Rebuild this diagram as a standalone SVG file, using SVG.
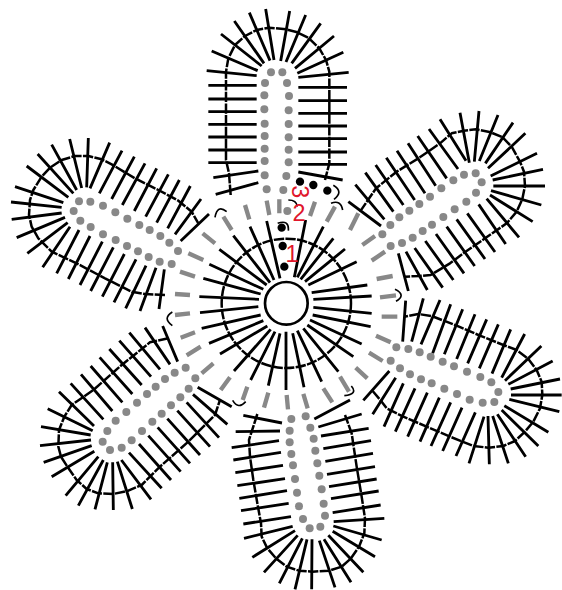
<svg xmlns="http://www.w3.org/2000/svg" width="562" height="590" viewBox="0 0 562 590">
<style>
.s{fill:none;stroke:#000;stroke-width:8.5}
.r{fill:none;stroke:#000;stroke-width:7.5;stroke-dasharray:31 4;stroke-linejoin:round}
.d{fill:#888}
.b{fill:#000}
.g{fill:none;stroke:#888;stroke-width:13}
.h{fill:none;stroke:#000;stroke-width:5}
.t{fill:#e0162b;font-family:"Liberation Sans",Arial,sans-serif;font-size:70px;text-anchor:middle}
</style>
<rect width="562" height="590" fill="#fff"/>
<g id="center" transform="translate(160,170) scale(.33333)">
<circle cx="379" cy="400" r="64" fill="#fff" stroke="#000" stroke-width="8"/>
<path class="s" d="M320,153L360,325M270,170L342,330M220,197L330,338M178,238L320,345M148,283L310,358M130,325L302,372M118,380L297,388M120,428L295,410M125,475L302,435M147,520L310,452M180,552L322,468M222,603L332,478M272,630L345,485M325,647L360,490M378,660L378,485M432,652L398,490M485,635L412,482M535,605L430,475M580,560L442,465M605,522L450,450M632,470L458,435M635,430L460,412M635,378L460,388M622,345L455,368M590,275L445,345M555,237L435,335M520,205L422,328M490,170L412,322M437,150L403,322"/>
<circle class="r" cx="379" cy="400" r="194"/>
</g>
<g id="round2" transform="translate(160,170) scale(.33333)">
<path class="g" d="M650,327L698,318M660,382L708,376M665,440L712,440M648,497L692,517M627,548L668,573M587,593L622,625M540,620L567,665M490,655L517,697M430,672L443,715M380,675L384,718M325,668L312,713M262,650L248,690M210,622L182,660M160,580L125,610M122,530L80,556M105,487L62,503M90,430L45,435M90,375L45,372M105,320L60,305M130,270L85,250M165,220L128,190M215,180L190,140M268,148L255,105M328,135L320,92M358,130L358,88M450,138L465,95M500,155L525,110M570,180L595,130M607,225L645,198M635,272L675,245"/>
<circle class="d" cx="382" cy="123" r="12"/>
<circle class="b" cx="420" cy="35" r="12.5"/><circle class="b" cx="460" cy="45" r="12.5"/><circle class="b" cx="502" cy="62" r="12.5"/><circle class="b" cx="365" cy="173" r="12.5"/><circle class="b" cx="368" cy="228" r="12.5"/><circle class="b" cx="373" cy="290" r="12.5"/>
<path class="h" d="M520,46Q552,65 522,88M513,100Q542,88 548,120M165,142Q172,102 200,125M385,90Q410,90 412,110M353,160Q388,148 385,182M705,358Q740,375 708,394M37,426Q6,445 37,467M574,648Q595,672 553,677M218,691Q235,720 257,695"/>
<text class="t" x="396" y="275">1</text>
<text class="t" x="417" y="154">2</text>
<text class="t" transform="translate(397,65) rotate(90)">3</text>
</g>
<g id="connectors"/>
<g id="petal-top" transform="translate(190,0) scale(.33333)">
<path class="s" d="M55,256H200M55,297H200M55,335H200M55,373H200M55,411H200M55,450H200M55,488H200M50,212L200,227M70,533L205,513M77,583L205,548M325,232L476,217M325,262H471M325,302H471M325,340H471M325,378H471M325,416H471M325,456H471M325,493H471M325,516L458,540M65,153L203,212M93,102L215,198M133,63L222,190M178,38L240,182M227,27L252,180M299,33L272,183M347,45L288,186M392,70L305,190M432,108L315,205M460,157L322,220"/>
<polyline class="r" points="122,585 117,520 108,480 108,215 115,175 135,135 165,108 200,90 237,83 288,88 322,97 355,113 388,145 408,180 418,215 418,490 405,540"/>
<g class="d"><circle cx="243" cy="217" r="12"/><circle cx="277" cy="217" r="12"/><circle cx="225" cy="249" r="12"/><circle cx="291" cy="249" r="12"/><circle cx="223" cy="286" r="12"/><circle cx="297" cy="288" r="12"/><circle cx="223" cy="328" r="12"/><circle cx="296" cy="331" r="12"/><circle cx="224" cy="371" r="12"/><circle cx="296" cy="372" r="12"/><circle cx="224" cy="408" r="12"/><circle cx="296" cy="412" r="12"/><circle cx="224" cy="446" r="12"/><circle cx="296" cy="449" r="12"/><circle cx="224" cy="483" r="12"/><circle cx="296" cy="487" r="12"/><circle cx="224" cy="526" r="12"/><circle cx="289" cy="528" r="12"/><circle cx="230" cy="568" r="12"/><circle cx="280" cy="570" r="12"/></g>
</g>
<g id="petal-upper-right" transform="translate(340,100) scale(.33333)">
<path class="s" d="M360,38L388,188M417,33L403,185M474,45L418,183M519,68L436,190M556,100L444,205M591,160L452,228M609,208L458,240M615,258H460M604,315L453,272M578,365L450,285M537,412L440,296M497,432L416,313M465,456L382,340M435,477L350,358M404,498L320,380M372,520L288,402M340,540L256,423M308,563L224,444M262,570L198,455M205,573L175,460M300,58L378,182M267,87L354,207M233,108L320,235M204,130L287,257M171,152L255,280M139,173L224,300M107,195L190,315M76,218L160,335M46,254L133,358M25,305L123,378"/>
<polyline class="r" points="60,335 108,265 170,215 235,175 300,130 335,100 372,92 408,88 452,97 488,112 515,140 540,185 552,215 555,258 547,297 530,335 500,370 435,415 370,460 330,490 272,525 238,528 195,530"/>
<g class="d"><circle cx="407" cy="220" r="12"/><circle cx="372" cy="224" r="12"/><circle cx="340" cy="241" r="12"/><circle cx="304" cy="265" r="12"/><circle cx="270" cy="290" r="12"/><circle cx="238" cy="312" r="12"/><circle cx="208" cy="332" r="12"/><circle cx="178" cy="352" r="12"/><circle cx="151" cy="375" r="12"/><circle cx="127" cy="403" r="12"/><circle cx="425" cy="247" r="12"/><circle cx="408" cy="278" r="12"/><circle cx="379" cy="305" r="12"/><circle cx="344" cy="328" r="12"/><circle cx="310" cy="351" r="12"/><circle cx="276" cy="374" r="12"/><circle cx="248" cy="393" r="12"/><circle cx="218" cy="413" r="12"/><circle cx="186" cy="429" r="12"/><circle cx="152" cy="438" r="12"/></g>
</g>
<g id="petal-lower-right" transform="translate(360,285) scale(.33333)">
<path class="s" d="M137,47L128,170M190,40L155,170M240,45L183,178M272,58L218,205M308,73L253,208M345,88L290,222M380,103L323,235M415,118L358,250M452,133L396,266M494,147L425,278M544,183L435,287M578,228L445,298M600,282L452,312M605,330L453,330M598,380L448,343M565,442L433,362M535,483L425,375M497,515L412,388M445,535L398,393M388,538L384,393M327,535L372,395M288,513L346,382M248,498L306,368M213,483L272,352M180,470L238,338M143,455L202,323M106,440L165,310M72,425L130,295M38,388L107,278M10,346L88,258"/>
<polyline class="r" points="38,318 65,350 80,370 130,395 200,425 270,455 340,483 385,488 430,483 465,468 495,440 520,410 540,370 547,330 545,290 530,255 505,222 470,195 430,180 360,152 290,122 215,93 175,87 133,95"/>
<g class="d"><circle cx="109" cy="187" r="12"/><circle cx="145" cy="192" r="12"/><circle cx="179" cy="202" r="12"/><circle cx="212" cy="215" r="12"/><circle cx="248" cy="230" r="12"/><circle cx="282" cy="244" r="12"/><circle cx="321" cy="260" r="12"/><circle cx="361" cy="276" r="12"/><circle cx="394" cy="292" r="12"/><circle cx="415" cy="321" r="12"/><circle cx="92" cy="227" r="12"/><circle cx="120" cy="250" r="12"/><circle cx="150" cy="268" r="12"/><circle cx="183" cy="283" r="12"/><circle cx="215" cy="295" r="12"/><circle cx="253" cy="311" r="12"/><circle cx="291" cy="327" r="12"/><circle cx="329" cy="344" r="12"/><circle cx="368" cy="353" r="12"/><circle cx="403" cy="351" r="12"/></g>
</g>
<g id="petal-bottom" transform="translate(225,390) scale(.33333)">
<path class="s" d="M55,76L171,99M32,125L165,123M20,173L162,152M25,210L168,187M31,248L174,226M37,287L180,266M43,325L186,302M48,362L191,340M55,402L198,380M57,445L203,409M82,502L210,422M117,547L218,436M163,580L232,445M210,598L246,448M260,598L261,448M330,592L283,452M378,577L297,448M415,547L310,436M450,500L323,424M470,450L325,408M478,385L326,395M467,345L323,368M461,303L318,326M455,267L312,290M450,230L306,253M444,190L301,214M438,152L295,176M431,115L288,138M410,72L280,111M375,30L268,87"/>
<polyline class="r" points="97,72 80,125 72,150 75,200 85,270 97,340 108,400 110,440 127,475 153,505 185,530 222,542 262,545 312,542 350,530 378,505 402,470 418,430 420,385 410,320 395,230 380,130 360,75"/>
<g class="d"><circle cx="199" cy="87" r="12"/><circle cx="194" cy="122" r="12"/><circle cx="194" cy="157" r="12"/><circle cx="199" cy="192" r="12"/><circle cx="204" cy="226" r="12"/><circle cx="210" cy="267" r="12"/><circle cx="216" cy="308" r="12"/><circle cx="222" cy="349" r="12"/><circle cx="234" cy="387" r="12"/><circle cx="254" cy="415" r="12"/><circle cx="242" cy="79" r="12"/><circle cx="256" cy="113" r="12"/><circle cx="266" cy="146" r="12"/><circle cx="271" cy="182" r="12"/><circle cx="277" cy="220" r="12"/><circle cx="283" cy="257" r="12"/><circle cx="290" cy="298" r="12"/><circle cx="296" cy="341" r="12"/><circle cx="300" cy="377" r="12"/><circle cx="286" cy="410" r="12"/></g>
</g>
<g id="petal-lower-left" transform="translate(35,310) scale(.33333)">
<path class="s" d="M383,48L428,155M330,53L405,163M283,68L375,178M253,92L348,200M223,117L320,225M194,142L292,252M167,168L262,277M138,193L232,303M107,220L205,328M72,245L177,348M38,296L173,362M18,350L167,375M15,407L168,390M26,457L170,407M50,500L178,424M92,557L190,440M130,587L205,450M180,598L217,457M235,600L233,457M292,597L247,455M348,568L259,450M282,428L380,535M312,402L408,510M340,377L437,485M368,352L465,460M397,326L495,435M427,302L525,410M455,277L552,383M474,253L577,343M488,232L590,290"/>
<polyline class="r" points="400,85 345,97 260,165 175,240 110,285 88,320 72,360 70,410 78,440 97,470 125,510 155,537 190,550 235,552 280,542 320,525 375,470 460,395 540,315 555,270"/>
<g class="d"><circle cx="452" cy="173" r="12"/><circle cx="419" cy="188" r="12"/><circle cx="390" cy="207" r="12"/><circle cx="362" cy="230" r="12"/><circle cx="336" cy="252" r="12"/><circle cx="306" cy="278" r="12"/><circle cx="274" cy="306" r="12"/><circle cx="242" cy="332" r="12"/><circle cx="217" cy="363" r="12"/><circle cx="203" cy="395" r="12"/><circle cx="481" cy="205" r="12"/><circle cx="461" cy="236" r="12"/><circle cx="436" cy="262" r="12"/><circle cx="408" cy="286" r="12"/><circle cx="380" cy="311" r="12"/><circle cx="352" cy="335" r="12"/><circle cx="321" cy="363" r="12"/><circle cx="290" cy="391" r="12"/><circle cx="260" cy="413" r="12"/><circle cx="225" cy="420" r="12"/></g>
</g>
<g id="petal-upper-left" transform="translate(5,130) scale(.33333)">
<path class="s" d="M30,170L175,218M18,216L170,232M20,268L170,249M35,323L180,262M67,370L188,278M113,412L195,290M155,430L222,300M190,447L255,318M225,465L292,335M257,483L325,352M292,500L358,372M327,517L393,388M362,535L423,407M405,543L453,413M462,537L478,418M65,108L190,202M98,72L205,190M140,44L215,180M194,27L230,174M250,24L245,172M314,38L255,175M351,62L283,190M388,80L320,207M420,100L352,225M455,115L388,243M490,133L422,260M523,150L455,278M556,168L488,295M588,207L510,313M612,252L527,333"/>
<polyline class="r" points="480,495 420,492 380,485 300,445 215,400 140,365 100,325 80,290 72,255 75,210 85,180 110,140 135,113 170,90 210,78 250,78 290,88 320,103 390,145 460,180 520,212 560,245 580,280"/>
<g class="d"><circle cx="222" cy="214" r="12"/><circle cx="256" cy="215" r="12"/><circle cx="294" cy="227" r="12"/><circle cx="331" cy="247" r="12"/><circle cx="367" cy="266" r="12"/><circle cx="403" cy="285" r="12"/><circle cx="434" cy="300" r="12"/><circle cx="466" cy="318" r="12"/><circle cx="493" cy="338" r="12"/><circle cx="519" cy="363" r="12"/><circle cx="206" cy="243" r="12"/><circle cx="226" cy="272" r="12"/><circle cx="257" cy="291" r="12"/><circle cx="294" cy="313" r="12"/><circle cx="332" cy="330" r="12"/><circle cx="366" cy="348" r="12"/><circle cx="399" cy="364" r="12"/><circle cx="431" cy="381" r="12"/><circle cx="464" cy="395" r="12"/><circle cx="500" cy="402" r="12"/></g>
</g>
</svg>
